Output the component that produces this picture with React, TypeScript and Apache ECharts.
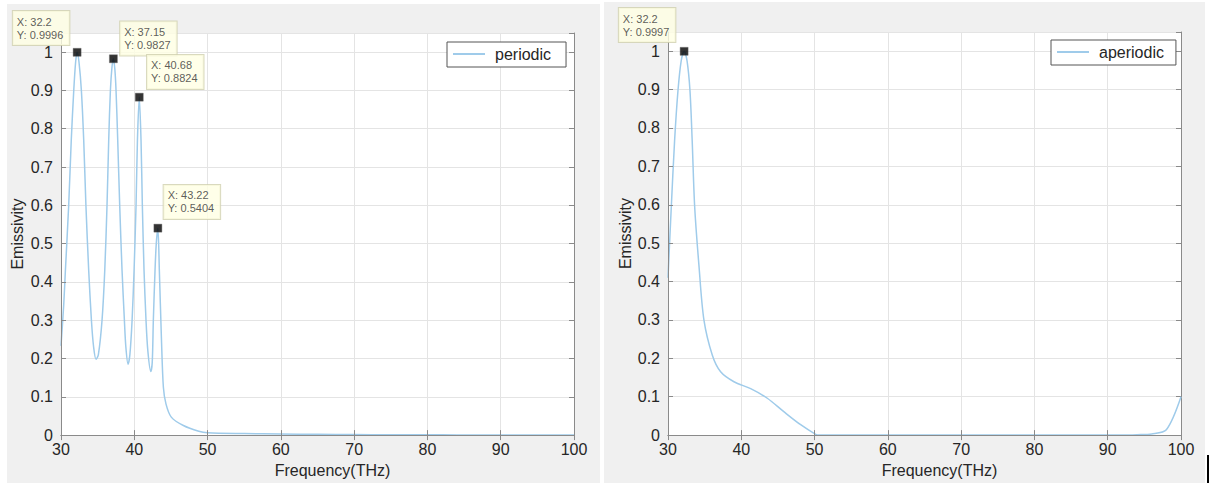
import React, { useEffect, useRef } from "react";
import * as echarts from "echarts";

// ---- data ----
const periodicFreq = [
  30.0, 30.37, 30.6, 31.05, 31.4, 31.74, 32.0, 32.2, 32.45, 32.78, 33.1, 33.4, 33.78, 34.15, 34.45,
  34.78, 35.1, 35.6, 35.97, 36.28, 36.51, 36.74, 36.95, 37.15, 37.35, 37.51, 37.74, 38.01, 38.33,
  38.65, 38.85, 39.15, 39.4, 39.7, 39.97, 40.24, 40.43, 40.68, 40.92, 41.1, 41.33, 41.6, 41.85,
  42.25, 42.45, 42.6, 42.83, 43.0, 43.22, 43.42, 43.7, 43.97, 44.33, 45.05, 46.7, 48.8, 50, 55,
  60, 65, 70, 75, 80, 84, 90, 100,
];
const periodicEm = [
  0.233, 0.34, 0.43, 0.6, 0.77, 0.9, 0.975, 0.9996, 0.975, 0.9, 0.77, 0.6, 0.43, 0.3, 0.23,
  0.198, 0.21, 0.3, 0.43, 0.6, 0.77, 0.9, 0.96, 0.9827, 0.955, 0.9, 0.77, 0.6, 0.43,
  0.3, 0.23, 0.185, 0.21, 0.3, 0.43, 0.6, 0.77, 0.8824, 0.77, 0.6, 0.43, 0.3, 0.22,
  0.166, 0.19, 0.3, 0.43, 0.5, 0.5404, 0.43, 0.255, 0.125, 0.081, 0.047, 0.025, 0.01, 0.006, 0.004,
  0.003, 0.002, 0.0015, 0.001, 0.0008, 0.0004, 0, 0,
];
const aperiodicFreq = [
  30.0, 30.45, 30.9, 31.36, 31.8, 32.2, 32.6, 33.0, 33.3, 33.64, 34.23, 34.9, 36.05, 37.18, 39.0,
  41.28, 43.55, 45.8, 48.1, 50.15, 50.6, 60, 70, 80, 90, 92, 94, 96, 98, 100,
];
const aperiodicEm = [
  0.41, 0.595, 0.767, 0.897, 0.975, 0.9997, 0.975, 0.897, 0.767, 0.595, 0.44, 0.3, 0.208, 0.165, 0.139,
  0.121, 0.096, 0.061, 0.027, 0.002, 0, 0, 0, 0, 0, 0, 0.001, 0.003, 0.014, 0.1,
];
const periodicTipX = [32.2, 37.15, 40.68, 43.22];
const periodicTipY = [0.9996, 0.9827, 0.8824, 0.5404];
const aperiodicTipX = [32.2];
const aperiodicTipY = [0.9997];
const seriesNames = ["periodic", "aperiodic"];
const xMin = 30;
const xMax = 100;
const xStep = 10;
const yMin = 0;
const yMax = 1.05;
const yStep = 0.1;
const xTitle = "Frequency(THz)";
const yTitle = "Emissivity";

const FONT = "'Liberation Sans', Arial, Helvetica, sans-serif";
const LINE = "#9fcbea";
const AXIS = "#8a8a8a";
const TEXT = "#262626";
const GRIDLINE = "#e4e4e4";

const periodicOffsets: [number, number][] = [
  [-60, -37],
  [11, -33],
  [12, -38],
  [10, -39],
];
const aperiodicOffsets: [number, number][] = [[-61, -39]];

function zip(a: number[], b: number[]) {
  return a.map((v, i) => [v, b[i]]);
}

function tipData(xs: number[], ys: number[], offs: [number, number][]) {
  return xs.map((x, i) => ({
    value: [x, ys[i]],
    label: { position: offs[i] },
  }));
}

export default function App() {
  const ref = useRef<HTMLDivElement>(null);

  useEffect(() => {
    if (!ref.current) return;
    const chart = echarts.init(ref.current, undefined, { renderer: "svg" });

    const grids = [
      { left: 61, top: 33, width: 513, height: 405 },
      { left: 668, top: 32, width: 513, height: 405 },
    ];

    const xAxes: any[] = [];
    const yAxes: any[] = [];
    grids.forEach((_, gi) => {
      xAxes.push({
        gridIndex: gi,
        type: "value",
        min: xMin,
        max: xMax,
        interval: xStep,
        position: "bottom",
        z: 3,
        axisLine: { show: true, lineStyle: { color: AXIS, width: 1 } },
        axisTick: { show: true, inside: true, length: 5, lineStyle: { color: AXIS } },
        axisLabel: { fontSize: 16, color: TEXT, margin: 6, fontFamily: FONT },
        splitLine: { show: false },
        name: xTitle,
        nameLocation: "middle",
        nameGap: gi === 0 ? 24 : 20,
        nameTextStyle: { fontSize: 16, color: TEXT, fontFamily: FONT, padding: [0, 0, 0, 30] },
      });
      xAxes.push({
        gridIndex: gi,
        type: "value",
        min: xMin,
        max: xMax,
        interval: xStep,
        position: "top",
        z: 0,
        axisLine: { show: true, lineStyle: { color: AXIS, width: 1 } },
        axisTick: { show: true, inside: true, length: 5, lineStyle: { color: AXIS } },
        axisLabel: { show: false },
        splitLine: { show: true, lineStyle: { color: GRIDLINE, width: 1 } },
      });
      yAxes.push({
        gridIndex: gi,
        type: "value",
        min: yMin,
        max: yMax,
        interval: yStep,
        position: "left",
        z: 3,
        axisLine: { show: true, lineStyle: { color: AXIS, width: 1 } },
        axisTick: { show: true, inside: true, length: 5, lineStyle: { color: AXIS } },
        axisLabel: {
          fontSize: 16,
          color: TEXT,
          margin: 8,
          fontFamily: FONT,
          showMaxLabel: false,
        },
        splitLine: { show: false },
        name: yTitle,
        nameLocation: "middle",
        nameGap: gi === 0 ? 36 : 35,
        nameTextStyle: { fontSize: 16, color: TEXT, fontFamily: FONT },
      });
      yAxes.push({
        gridIndex: gi,
        type: "value",
        min: yMin,
        max: yMax,
        interval: yStep,
        position: "right",
        z: 0,
        axisLine: { show: true, lineStyle: { color: AXIS, width: 1 } },
        axisTick: { show: true, inside: true, length: 5, lineStyle: { color: AXIS } },
        axisLabel: { show: false },
        splitLine: { show: true, lineStyle: { color: GRIDLINE, width: 1 } },
      });
    });

    const tipLabel = {
      show: true,
      formatter: (p: any) => `X: ${p.value[0]}\nY: ${p.value[1].toFixed(4)}`,
      fontSize: 11,
      lineHeight: 13,
      fontFamily: FONT,
      color: "#333",
      backgroundColor: "#ffffe3",
      borderColor: "#cfcfae",
      borderWidth: 1,
      padding: [4, 6, 4, 4],
    };

    const legendBase = {
      orient: "horizontal",
      icon: "rect",
      itemWidth: 32,
      itemHeight: 2,
      itemGap: 0,
      selectedMode: false,
      borderColor: "#555",
      borderWidth: 1,
      backgroundColor: "#fff",
      textStyle: { fontSize: 16, color: TEXT, fontFamily: FONT, padding: [0, 0, 0, 5] },
    };

    chart.setOption({
      animation: false,
      grid: grids.map((g) => ({
        ...g,
        show: true,
        backgroundColor: "#ffffff",
        borderWidth: 0,
        containLabel: false,
      })),
      xAxis: xAxes,
      yAxis: yAxes,
      legend: [
        { ...legendBase, data: [seriesNames[0]], left: 447, top: 42, padding: [4, 15, 5, 6] },
        { ...legendBase, data: [seriesNames[1]], left: 1051, top: 40, padding: [4, 12, 5, 6] },
      ],
      series: [
        {
          name: seriesNames[0],
          type: "line",
          xAxisIndex: 0,
          yAxisIndex: 0,
          data: zip(periodicFreq, periodicEm),
          showSymbol: false,
          smooth: 0.3,
          lineStyle: { color: LINE, width: 1.5 },
          itemStyle: { color: LINE },
          z: 2,
        },
        {
          name: "periodic tips",
          type: "scatter",
          xAxisIndex: 0,
          yAxisIndex: 0,
          symbol: "rect",
          symbolSize: 8,
          itemStyle: { color: "#000", borderColor: "#666", borderWidth: 0.5 },
          label: tipLabel,
          data: tipData(periodicTipX, periodicTipY, periodicOffsets),
          z: 5,
        },
        {
          name: seriesNames[1],
          type: "line",
          xAxisIndex: 2,
          yAxisIndex: 2,
          data: zip(aperiodicFreq, aperiodicEm),
          showSymbol: false,
          smooth: 0.3,
          lineStyle: { color: LINE, width: 1.5 },
          itemStyle: { color: LINE },
          z: 2,
        },
        {
          name: "aperiodic tips",
          type: "scatter",
          xAxisIndex: 2,
          yAxisIndex: 2,
          symbol: "rect",
          symbolSize: 8,
          itemStyle: { color: "#000", borderColor: "#666", borderWidth: 0.5 },
          label: tipLabel,
          data: tipData(aperiodicTipX, aperiodicTipY, aperiodicOffsets),
          z: 5,
        },
      ],
    });

    return () => chart.dispose();
  }, []);

  return (
    <div
      style={{
        position: "absolute",
        left: 0,
        top: 0,
        width: 1210,
        height: 483,
        background: "#ffffff",
        overflow: "hidden",
      }}
    >
      <div style={{ position: "absolute", left: 7, top: 4, width: 593, height: 479, background: "#f0f0f0" }} />
      <div style={{ position: "absolute", left: 604, top: 2, width: 601, height: 481, background: "#f0f0f0" }} />
      <div style={{ position: "absolute", left: 1207, top: 455, width: 2, height: 28, background: "#000" }} />
      <div ref={ref} style={{ position: "absolute", left: 0, top: 0, width: 1210, height: 483 }} />
    </div>
  );
}
